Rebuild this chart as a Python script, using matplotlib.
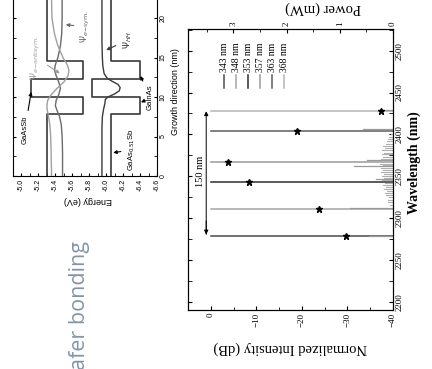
import matplotlib
matplotlib.use('Agg')
import matplotlib.pyplot as plt
from matplotlib.ticker import MultipleLocator

plt.rcParams['font.family'] = ['Liberation Serif', 'DejaVu Serif']
plt.rcParams['mathtext.fontset'] = 'dejavusans'

# lasing spectra, one per pump wavelength
pump_labels = ['343 nm', '348 nm', '353 nm', '357 nm', '363 nm', '368 nm']
peak_wl = [2278, 2311, 2343, 2367, 2404, 2428]
peak_db = [0, 0, 0, 0, 0, 0]
peak_power = [0.88, 1.39, 2.70, 3.10, 1.80, 0.23]
line_colors = ['#4a4a4a', '#a4a4a4', '#2e2e2e', '#9a9a9a', '#5c5c5c', '#b4b4b4']

# side modes and noise floor
side_wl = [2279, 2312, 2346.5, 2362.5, 2369.5, 2406.5, 2429.5]
side_db = [-34.7, -30.6, -36.2, -31.4, -34.3, -33.4, -38.0]
floor_wl = [2316, 2319, 2322, 2325, 2327, 2330, 2332, 2335, 2337, 2340, 2342,
            2345, 2348, 2350, 2353, 2355, 2358, 2360, 2363, 2365, 2368, 2371,
            2373, 2376, 2378, 2381, 2384, 2386, 2389, 2392, 2394, 2397, 2400]
floor_db = [-39.4, -39.0, -38.8, -39.1, -38.5, -38.2, -38.7, -38.0, -38.4, -37.8, -38.3,
            -37.6, -38.1, -37.5, -38.0, -37.4, -37.9, -37.3, -37.8, -37.2, -37.7, -37.4,
            -37.9, -37.5, -38.0, -37.6, -38.2, -37.9, -38.4, -38.6, -38.9, -39.1, -39.5]

# inset: band profile of the W quantum well
layer_edges = [0, 7.8, 10.0, 12.3, 14.6, 25]
cb_ev = [-5.30, -5.73, -5.11, -5.73, -5.30]
vb_ev = [-6.06, -6.40, -5.83, -6.40, -6.06]
wf_nm = [0, 3, 5, 6.5, 7.5, 8.3, 8.9, 9.6, 10.3, 11.1, 11.9, 12.7, 13.4, 14.1, 15, 16.5, 18, 20, 25]
psi_antisym = [-5.355, -5.35, -5.345, -5.335, -5.32, -5.305, -5.30, -5.31, -5.35, -5.42,
               -5.50, -5.55, -5.56, -5.54, -5.49, -5.43, -5.39, -5.36, -5.35]
psi_sym = [-5.485, -5.485, -5.48, -5.47, -5.45, -5.42, -5.40, -5.41, -5.44, -5.46,
           -5.44, -5.41, -5.39, -5.40, -5.43, -5.46, -5.475, -5.48, -5.48]
hh_nm = [0, 6, 7.5, 8.5, 9.2, 9.7, 10.0, 10.4, 10.8, 11.2, 11.6, 12.0, 12.4, 13, 14, 15, 17, 25]
psi_hh = [-5.95, -5.95, -5.955, -5.97, -5.985, -5.99, -6.02, -6.10, -6.155, -6.165,
          -6.14, -6.07, -6.01, -5.975, -5.96, -5.955, -5.95, -5.95]
energy_ticks = [-5.0, -5.2, -5.4, -5.6, -5.8, -6.0, -6.2, -6.4, -6.6]
growth_ticks = [0, 5, 10, 15, 20]

W, H = 432, 369
fig = plt.figure(figsize=(W / 100, H / 100), dpi=100)

# ---- main spectrum plot (page is turned, so wavelength runs vertically)
ax = fig.add_axes([188 / W, 1 - 310 / H, 205 / W, 281 / H])
for wl, db, c in zip(peak_wl, peak_db, line_colors):
    ax.plot([-40, db], [wl, wl], color=c, lw=1.1)
for wl, db in zip(side_wl, side_db):
    ax.plot([-40, db], [wl, wl], color='#9a9a9a', lw=0.9)
for wl, db in zip(floor_wl, floor_db):
    ax.plot([-40, db], [wl, wl], color='#b0b0b0', lw=0.8)

ax.set_xlim(5, -40)
ax.set_ylim(2190, 2526)
ax.xaxis.set_major_locator(MultipleLocator(10))
ax.xaxis.set_minor_locator(MultipleLocator(5))
ax.yaxis.set_major_locator(MultipleLocator(50))
ax.yaxis.set_minor_locator(MultipleLocator(25))
ax.tick_params(axis='both', which='both', direction='in', labelsize=6.5, pad=2)
ax.tick_params(axis='x', which='major', length=3, labelrotation=90)
ax.tick_params(axis='y', which='both', left=True, right=True, labelleft=False,
               labelright=True, length=3, labelrotation=90)
for t in ax.get_yticklabels():
    t.set_va('center')
ax.set_xlabel('Normalized Intensity (dB)', fontsize=10.5, rotation=180, va='center', ha='center')
ax.xaxis.set_label_coords(0.5, -0.135)
ax.yaxis.set_label_position('right')
ax.set_ylabel('Wavelength (nm)', fontsize=10, fontweight='bold', rotation=90,
              va='center', ha='center')
ax.yaxis.set_label_coords(1.105, 0.523)

# 150 nm span
ax.annotate('', xy=(1.0, 2431), xytext=(1.0, 2277),
            arrowprops=dict(arrowstyle='-|>', lw=0.7, color='k', mutation_scale=6))
ax.annotate('', xy=(1.0, 2277), xytext=(1.0, 2300),
            arrowprops=dict(arrowstyle='-|>', lw=0.7, color='k', mutation_scale=6))
ax.text(2.3, 2356, '150 nm', rotation=90, ha='center', va='center', fontsize=7.5)

# legend, drawn turned with the page
for i, (lab, c) in enumerate(zip(pump_labels, line_colors)):
    xa = 0.176 + i * 0.0585
    ax.plot([xa, xa], [0.790, 0.836], color=c, lw=1.1, transform=ax.transAxes)
    ax.text(xa, 0.848, lab, rotation=90, ha='center', va='bottom', fontsize=7,
            transform=ax.transAxes)

# output power on the second axis
axp = ax.twiny()
axp.plot(peak_power, peak_wl, linestyle='none', marker='*', color='k', ms=5)
axp.set_xlim(3.85, 0)
axp.xaxis.set_major_locator(MultipleLocator(1))
axp.xaxis.set_minor_locator(MultipleLocator(0.5))
axp.tick_params(axis='x', which='both', direction='in', labelsize=6.5, labelrotation=90, pad=2)
axp.tick_params(axis='x', which='major', length=3)
axp.set_xlabel('Power (mW)', fontsize=10.5, rotation=180, va='center', ha='center')
axp.xaxis.set_label_coords(0.66, 1.075)

# ---- inset band diagram
ai = fig.add_axes([13 / W, 1 - 176 / H, 144 / W, 180 / H])
bx, by = [], []
vx, vy = [], []
for i in range(len(cb_ev)):
    bx += [cb_ev[i], cb_ev[i]]
    vx += [vb_ev[i], vb_ev[i]]
    by += [layer_edges[i], layer_edges[i + 1]]
    vy += [layer_edges[i], layer_edges[i + 1]]
ai.plot(bx, by, color='#3a3a3a', lw=1.2)
ai.plot(vx, vy, color='#3a3a3a', lw=1.2)
ai.plot(psi_sym, wf_nm, color='#6a6a6a', lw=1.0)
ai.plot(psi_antisym, wf_nm, color='#a0a0a0', lw=1.0)
ai.plot(psi_hh, hh_nm, color='#3a3a3a', lw=1.0)
ai.set_xlim(-4.9, -6.6)
ai.set_ylim(0, 22.8)
ai.set_xticks(energy_ticks)
ai.set_xticklabels(['%.1f' % e for e in energy_ticks])
ai.xaxis.set_minor_locator(MultipleLocator(0.1))
ai.set_yticks(growth_ticks)
ai.yaxis.set_minor_locator(MultipleLocator(2.5))
ai.yaxis.tick_right()
ai.tick_params(axis='both', which='both', direction='in', labelsize=5, labelrotation=90,
               left=True, right=True, length=2, pad=2)
for t in ai.get_xticklabels() + ai.get_yticklabels():
    t.set_fontfamily('Liberation Sans')
for t in ai.get_yticklabels():
    t.set_va('center')
ai.set_xlabel('Energy (eV)', fontsize=6.5, rotation=180, family='Liberation Sans',
              va='center', ha='center')
ai.xaxis.set_label_coords(0.52, -0.135)
ai.yaxis.set_label_position('right')
ai.set_ylabel('Growth direction (nm)', fontsize=6.5, rotation=90, family='Liberation Sans',
              va='center', ha='center')
ai.yaxis.set_label_coords(1.13, 0.47)

sans = dict(family='Liberation Sans', rotation=90, ha='center', va='center')
arr = dict(arrowstyle='-|>', lw=0.8, color='k', mutation_scale=5)
ai.annotate('GaAsSb', xy=(-5.12, 11.0), xytext=(-5.04, 5.8), fontsize=5.5,
            arrowprops=arr, **sans)
ai.annotate('GaInAs', xy=(-6.39, 13.0), xytext=(-6.52, 10.0), fontsize=5.5,
            arrowprops=arr, **sans)
ai.annotate('', xy=(-6.38, 9.2), xytext=(-6.49, 9.7), arrowprops=arr)
ai.annotate('GaAs$_{0.51}$Sb', xy=(-6.05, 2.9), xytext=(-6.30, 3.3), fontsize=5.5,
            arrowprops=arr, **sans)
ai.annotate(r'$\Psi_{HH}$', xy=(-5.97, 15.8), xytext=(-6.25, 17.2), fontsize=6.5,
            arrowprops=dict(arr, color='#3a3a3a'), color='#3a3a3a', **sans)
ai.annotate(r'$\Psi_{e\mathrm{-sym.}}$', xy=(-5.49, 19.2), xytext=(-5.76, 18.9), fontsize=6.5,
            arrowprops=dict(arr, color='#6a6a6a'), color='#6a6a6a', **sans)
ai.annotate(r'$\Psi_{e\mathrm{-antisym.}}$', xy=(-5.48, 12.8), xytext=(-5.17, 15.0),
            fontsize=6.5, arrowprops=dict(arr, color='#a0a0a0'), color='#a0a0a0', **sans)

# slide title, turned with the page
fig.text(80 / W, -0.004, 'afer bonding', rotation=90, ha='center', va='bottom',
         fontsize=15.5, family='Open Sans', color='#8396a8')

fig.savefig('out.png', dpi=100)
